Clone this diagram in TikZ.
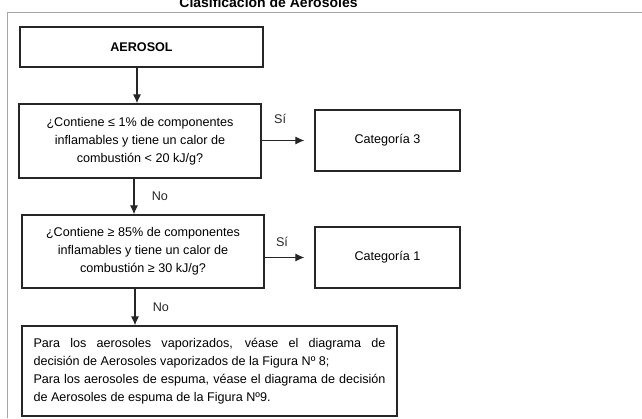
\documentclass[tikz,border=0pt]{standalone}
\usepackage{fontspec}
\setmainfont{Liberation Sans}
\usetikzlibrary{arrows.meta}
\begin{document}
\begin{tikzpicture}[x=1pt, y=-1pt, >={Latex[length=9pt,width=8pt]},
        every node/.style={font=\fontsize{12.6}{18}\selectfont},
        caja/.style={draw=black!85, line width=1.2pt, inner sep=0pt, align=center},
        flecha/.style={->, line width=1.1pt, black!85}]
        \useasboundingbox (0,0) rectangle (642,418);
        \node[anchor=base, font=\fontsize{14}{16}\selectfont\bfseries] (titulo) at (268.5,7) {Clasificación de Aerosoles};
        \draw[black!35, line width=0.8pt] (7,418) -- (7,12) -- (642,12);
        \node[caja, minimum width=243pt, minimum height=40pt, font=\fontsize{12.6}{18}\selectfont\bfseries] (aerosol) at (141.5,47) {AEROSOL};
        \node[caja, minimum width=242pt, minimum height=74pt] (preg1) at (140,141) {¿Contiene ≤ 1\% de componentes\\ inflamables y tiene un calor de\\ combustión < 20 kJ/g?};
        \node[caja, minimum width=145pt, minimum height=61pt] (cat3) at (387.5,140.5) {Categoría 3};
        \node[caja, minimum width=242pt, minimum height=73pt] (preg2) at (143,251.5) {¿Contiene ≥ 85\% de componentes\\ inflamables y tiene un calor de\\ combustión ≥ 30 kJ/g?};
        \node[caja, minimum width=145pt, minimum height=61pt] (cat1) at (387.5,257.5) {Categoría 1};
        \node[caja, text width=352pt, minimum height=90pt, inner xsep=11.5pt, align=justify] (final) at (209.5,371) {Para los aerosoles vaporizados, véase el diagrama de\linebreak decisión de Aerosoles vaporizados de la Figura Nº 8;\\ Para los aerosoles de espuma, véase el diagrama de decisión de Aerosoles de espuma de la Figura Nº9.};
        \draw[flecha] (aerosol.south -| 137,0) -- (preg1.north -| 137,0);
        \draw[flecha, shorten >=10pt] (preg1.east |- cat3.west) -- node[pos=0.35, above=13pt]{Sí} (cat3.west);
        \draw[flecha] (preg1.south -| 134,0) -- node[right=14pt]{No} (preg2.north -| 134,0);
        \draw[flecha, shorten >=10pt] (preg2.east |- cat1.west) -- node[pos=0.35, above=7pt]{Sí} (cat1.west);
        \draw[flecha] (preg2.south -| 135,0) -- node[right=14pt]{No} (final.north -| 135,0);
    \end{tikzpicture}
\end{document}
